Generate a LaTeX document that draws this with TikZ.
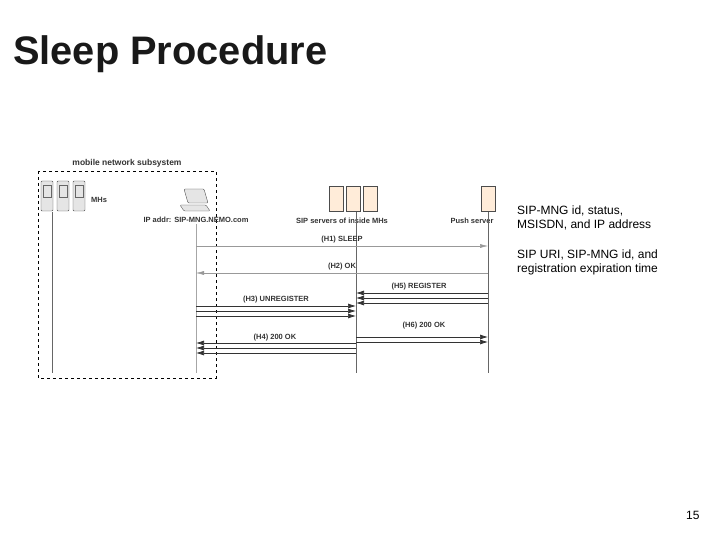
\documentclass[tikz,border=0pt]{standalone}
\usepackage{fontspec}
\setmainfont{Liberation Sans}
\usetikzlibrary{arrows.meta}
\begin{document}
\begin{tikzpicture}[x=1pt,y=-1pt,
  lab/.style={font=\bfseries\fontsize{7.5}{8}\selectfont, text=black!80, inner sep=1pt},
  life/.style={draw=black!60, line width=0.8pt},
  msg/.style={draw=black!80, line width=0.7pt, -{Latex[length=8pt,width=5pt]}},
  thin/.style={draw=black!40, line width=0.5pt, -{Latex[length=8pt,width=4pt]}},
  dev/.style={draw=black!70, fill=black!10, rounded corners=1pt},
  srv/.style={draw=black!70, fill=orange!15, line width=0.5pt},
  side/.style={font=\fontsize{12}{14}\selectfont, anchor=west, align=left, inner sep=0pt}]
\useasboundingbox (0,0) rectangle (720,540);
\node[anchor=west, inner sep=0pt, font=\bfseries\fontsize{39.8}{42}\selectfont, text=black!90] (title) at (13,54) {Sleep Procedure};
% box
\draw[dashed, line width=0.9pt] (38,171) rectangle (216,378);
\node[lab, font=\bfseries\fontsize{8.5}{9}\selectfont] (mns) at (127,163) {mobile network subsystem};
% MH icons
\foreach \i/\xx in {1/47,2/63,3/79}{\draw[dev] (\xx-6,181) rectangle (\xx+6,211); \draw[black!60] (\xx-4,185) rectangle (\xx+4,197);}
\node[lab, anchor=west] (mhs) at (90,200) {MHs};
% laptop
\draw[dev] (184,189) -- (204,189) -- (208,203) -- (188,203) -- cycle;
\draw[dev] (180,205) -- (206,205) -- (210,211) -- (184,211) -- cycle;
\node[lab] (ip) at (196,220) {IP addr: SIP-MNG.NEMO.com};
% servers
\foreach \xx in {336,353,370}{\draw[srv] (\xx-7,186) rectangle (\xx+7,211);}
\node[lab] (sip) at (342,221) {SIP servers of inside MHs};
\draw[srv] (481,186) rectangle (495,211);
\node[lab] (push) at (472,221) {Push server};
% lifelines
\coordinate (mhT) at (52,212); \coordinate (mhB) at (52,373);
\coordinate (lpT) at (196,224); \coordinate (lpB) at (196,373);
\coordinate (sT) at (356,212); \coordinate (sB) at (356,373);
\coordinate (pT) at (488,212); \coordinate (pB) at (488,373);
\draw[life] (mhT) -- (mhB);
\draw[draw=black!35] (lpT) -- (lpB);
\draw[life] (sT) -- (sB);
\draw[life] (pT) -- (pB);
% messages
\coordinate (a1) at (196,246); \coordinate (b1) at (488,246);
\draw[thin] (a1) -- (b1);
\node[lab] (h1) at (342,240) {(H1) SLEEP};
\coordinate (a2) at (488,273); \coordinate (b2) at (196,273);
\draw[thin] (a2) -- (b2);
\node[lab] (h2) at (342,267) {(H2) OK};
\foreach \yy in {293,298,303}{\draw[msg] (488,\yy) -- (356,\yy);}
\node[lab] (h5) at (419,287) {(H5) REGISTER};
\foreach \yy in {306,311,316}{\draw[msg] (196,\yy) -- (356,\yy);}
\node[lab] (h3) at (276,300) {(H3) UNREGISTER};
\foreach \yy in {337,342}{\draw[msg] (356,\yy) -- (488,\yy);}
\node[lab] (h6) at (424,326) {(H6) 200 OK};
\foreach \yy in {343,348,353}{\draw[msg] (356,\yy) -- (196,\yy);}
\node[lab] (h4) at (275,338) {(H4) 200 OK};
% side text
\node[side] (t1) at (517,218) {SIP-MNG id, status,\\MSISDN, and IP address};
\node[side] (t2) at (517,262) {SIP URI, SIP-MNG id, and\\registration expiration time};
\node[font=\fontsize{12}{14}\selectfont, anchor=east] (pg) at (703,515) {15};
\end{tikzpicture}
\end{document}
